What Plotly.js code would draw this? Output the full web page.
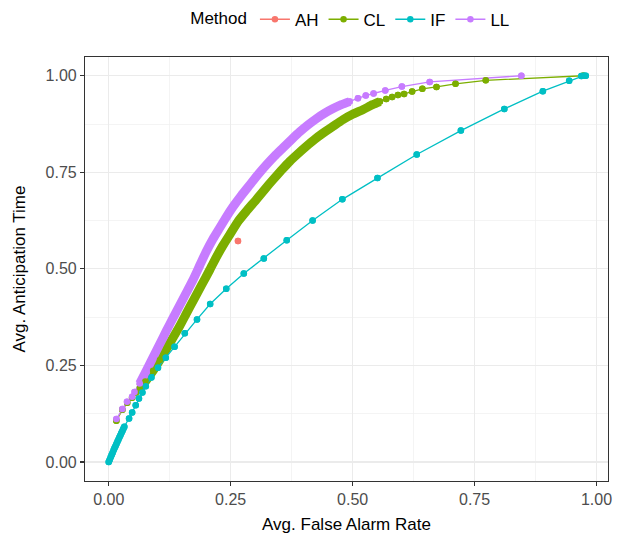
<!DOCTYPE html>
<html>
<head>
<meta charset="utf-8">
<script src="https://cdn.plot.ly/plotly-3.0.1.min.js"></script>
<style>html,body{margin:0;padding:0;background:#fff;}#chart{width:622px;height:538px;}</style>
</head>
<body>
<div id="chart"></div>
<script>
// ---- data ----
var methods = ["AH", "CL", "IF", "LL"];
var colors = ["#F8766D", "#7CAE00", "#00BFC4", "#C77CFF"];

var ahX = [0.265];
var ahY = [0.572];

// CL: sparse start, dense band, sparse tail
var clStartX = [0.0157, 0.028, 0.038, 0.048, 0.056];
var clStartY = [0.107, 0.135, 0.153, 0.166, 0.180];
var clDenseX = [0.064, 0.075, 0.091, 0.105, 0.118, 0.132, 0.146, 0.159, 0.173, 0.190, 0.207, 0.221, 0.234, 0.248, 0.266, 0.284, 0.303, 0.320, 0.337, 0.354, 0.371, 0.388, 0.405, 0.422, 0.439, 0.460, 0.480, 0.500, 0.521, 0.541, 0.556];
var clDenseY = [0.192, 0.208, 0.236, 0.264, 0.292, 0.322, 0.353, 0.384, 0.417, 0.457, 0.497, 0.531, 0.560, 0.588, 0.624, 0.652, 0.680, 0.706, 0.731, 0.755, 0.778, 0.798, 0.817, 0.835, 0.851, 0.869, 0.886, 0.900, 0.912, 0.925, 0.933];
var clTailX = [0.569, 0.581, 0.593, 0.6055, 0.622, 0.643, 0.672, 0.711, 0.773, 0.9725];
var clTailY = [0.940, 0.945, 0.950, 0.953, 0.959, 0.966, 0.971, 0.979, 0.988, 1.000];

// IF
var ifX = [0.000, 0.002, 0.004, 0.006, 0.008, 0.010, 0.012, 0.014, 0.016, 0.018, 0.020, 0.022, 0.024, 0.026, 0.028, 0.030, 0.032,
           0.0417, 0.048, 0.0554, 0.062, 0.069, 0.076, 0.0875, 0.101, 0.117, 0.135, 0.156, 0.181, 0.208, 0.241, 0.277, 0.318,
           0.365, 0.418, 0.479, 0.551, 0.6315, 0.722, 0.811, 0.890, 0.944, 0.969, 0.974, 0.978];
var ifY = [0.000, 0.006, 0.012, 0.018, 0.024, 0.030, 0.036, 0.041, 0.047, 0.053, 0.058, 0.064, 0.069, 0.075, 0.080, 0.086, 0.091,
           0.1125, 0.128, 0.147, 0.164, 0.180, 0.196, 0.219, 0.244, 0.270, 0.298, 0.333, 0.369, 0.409, 0.4485, 0.488, 0.527,
           0.574, 0.625, 0.680, 0.735, 0.796, 0.858, 0.914, 0.960, 0.987, 0.999, 1.000, 1.000];

// LL: sparse start, dense band, sparse tail
var llStartX = [0.0157, 0.028, 0.0375, 0.048, 0.053];
var llStartY = [0.111, 0.137, 0.156, 0.169, 0.181];
var llDenseX = [0.0636, 0.077, 0.091, 0.105, 0.118, 0.132, 0.145, 0.159, 0.173, 0.187, 0.200, 0.214, 0.228, 0.241, 0.255, 0.272, 0.289, 0.306, 0.323, 0.340, 0.357, 0.375, 0.392, 0.409, 0.426, 0.443, 0.460, 0.477, 0.494];
var llDenseY = [0.203, 0.236, 0.271, 0.306, 0.339, 0.373, 0.404, 0.438, 0.472, 0.510, 0.545, 0.578, 0.607, 0.634, 0.661, 0.690, 0.717, 0.744, 0.769, 0.792, 0.813, 0.835, 0.855, 0.873, 0.889, 0.903, 0.915, 0.925, 0.933];
var llTailX = [0.511, 0.527, 0.543, 0.567, 0.601, 0.658, 0.846];
var llTailY = [0.942, 0.949, 0.954, 0.962, 0.972, 0.984, 1.000];

var xTicks = [0, 0.25, 0.5, 0.75, 1];
var yTicks = [0, 0.25, 0.5, 0.75, 1];
var xTitle = "Avg. False Alarm Rate";
var yTitle = "Avg. Anticipation Time";
var legendTitle = "Method";

// ---- build traces ----
var clX = clStartX.concat(clDenseX, clTailX), clY = clStartY.concat(clDenseY, clTailY);
var llX = llStartX.concat(llDenseX, llTailX), llY = llStartY.concat(llDenseY, llTailY);
var series = [[ahX, ahY], [clX, clY], [ifX, ifY], [llX, llY]];
var dense = [null, [clDenseX, clDenseY], null, [llDenseX, llDenseY]];

var LW = 1.3, MS = 6.5;
var traces = [];
// lines (with legend)
for (var i = 0; i < 4; i++) {
  traces.push({
    type: "scatter", mode: "lines+markers", name: methods[i], legendgroup: methods[i],
    x: series[i][0], y: series[i][1],
    line: {color: colors[i], width: LW}, marker: {color: colors[i], size: MS},
    hoverinfo: "skip"
  });
  if (dense[i]) {
    traces.push({
      type: "scatter", mode: "lines", showlegend: false, legendgroup: methods[i],
      x: dense[i][0], y: dense[i][1],
      line: {color: colors[i], width: 9, shape: "spline", smoothing: 0.6}, hoverinfo: "skip"
    });
  }
}
// points on top
for (var j = 0; j < 4; j++) {
  traces.push({
    type: "scatter", mode: "markers", showlegend: false, legendgroup: methods[j],
    x: series[j][0], y: series[j][1],
    marker: {color: colors[j], size: MS}, hoverinfo: "skip"
  });
}

var FONT = "Liberation Sans, Arial, Helvetica, sans-serif";
function axis(ticks, range, title, standoff) {
  return {
    range: range, tickvals: ticks, ticktext: ticks.map(function (v) { return v.toFixed(2); }),
    ticks: "outside", ticklen: 4, tickwidth: 1.1, tickcolor: "#333333",
    tickfont: {family: FONT, size: 16, color: "#4d4d4d"},
    showline: true, mirror: true, linecolor: "#333333", linewidth: 1.1,
    showgrid: true, gridcolor: "#ebebeb", gridwidth: 1.2, zeroline: false,
    minor: {dtick: 0.125, tick0: 0, showgrid: true, gridcolor: "#f0f0f0", gridwidth: 0.7},
    title: {text: title, font: {family: FONT, size: 17, color: "#000000"}, standoff: standoff},
    automargin: false, fixedrange: true
  };
}

var layout = {
  width: 622, height: 538,
  margin: {l: 85, r: 14, t: 57, b: 57, autoexpand: false},
  paper_bgcolor: "#ffffff", plot_bgcolor: "#ffffff",
  font: {family: FONT, size: 16, color: "#000000"},
  xaxis: axis(xTicks, [-0.0486, 1.0236], xTitle, 10),
  yaxis: axis(yTicks, [-0.0493, 1.0485], yTitle, 15),
  showlegend: true,
  legend: {
    orientation: "h", x: 0.51, xanchor: "center", y: 1.088, yanchor: "middle",
    title: {text: legendTitle, side: "left", font: {family: FONT, size: 17}},
    font: {family: FONT, size: 17, color: "#000000"},
    traceorder: "normal", itemclick: false, itemdoubleclick: false,
    tracegroupgap: 0, bgcolor: "rgba(0,0,0,0)"
  }
};

Plotly.newPlot("chart", traces, layout, {displayModeBar: false, staticPlot: true});
</script>
</body>
</html>
